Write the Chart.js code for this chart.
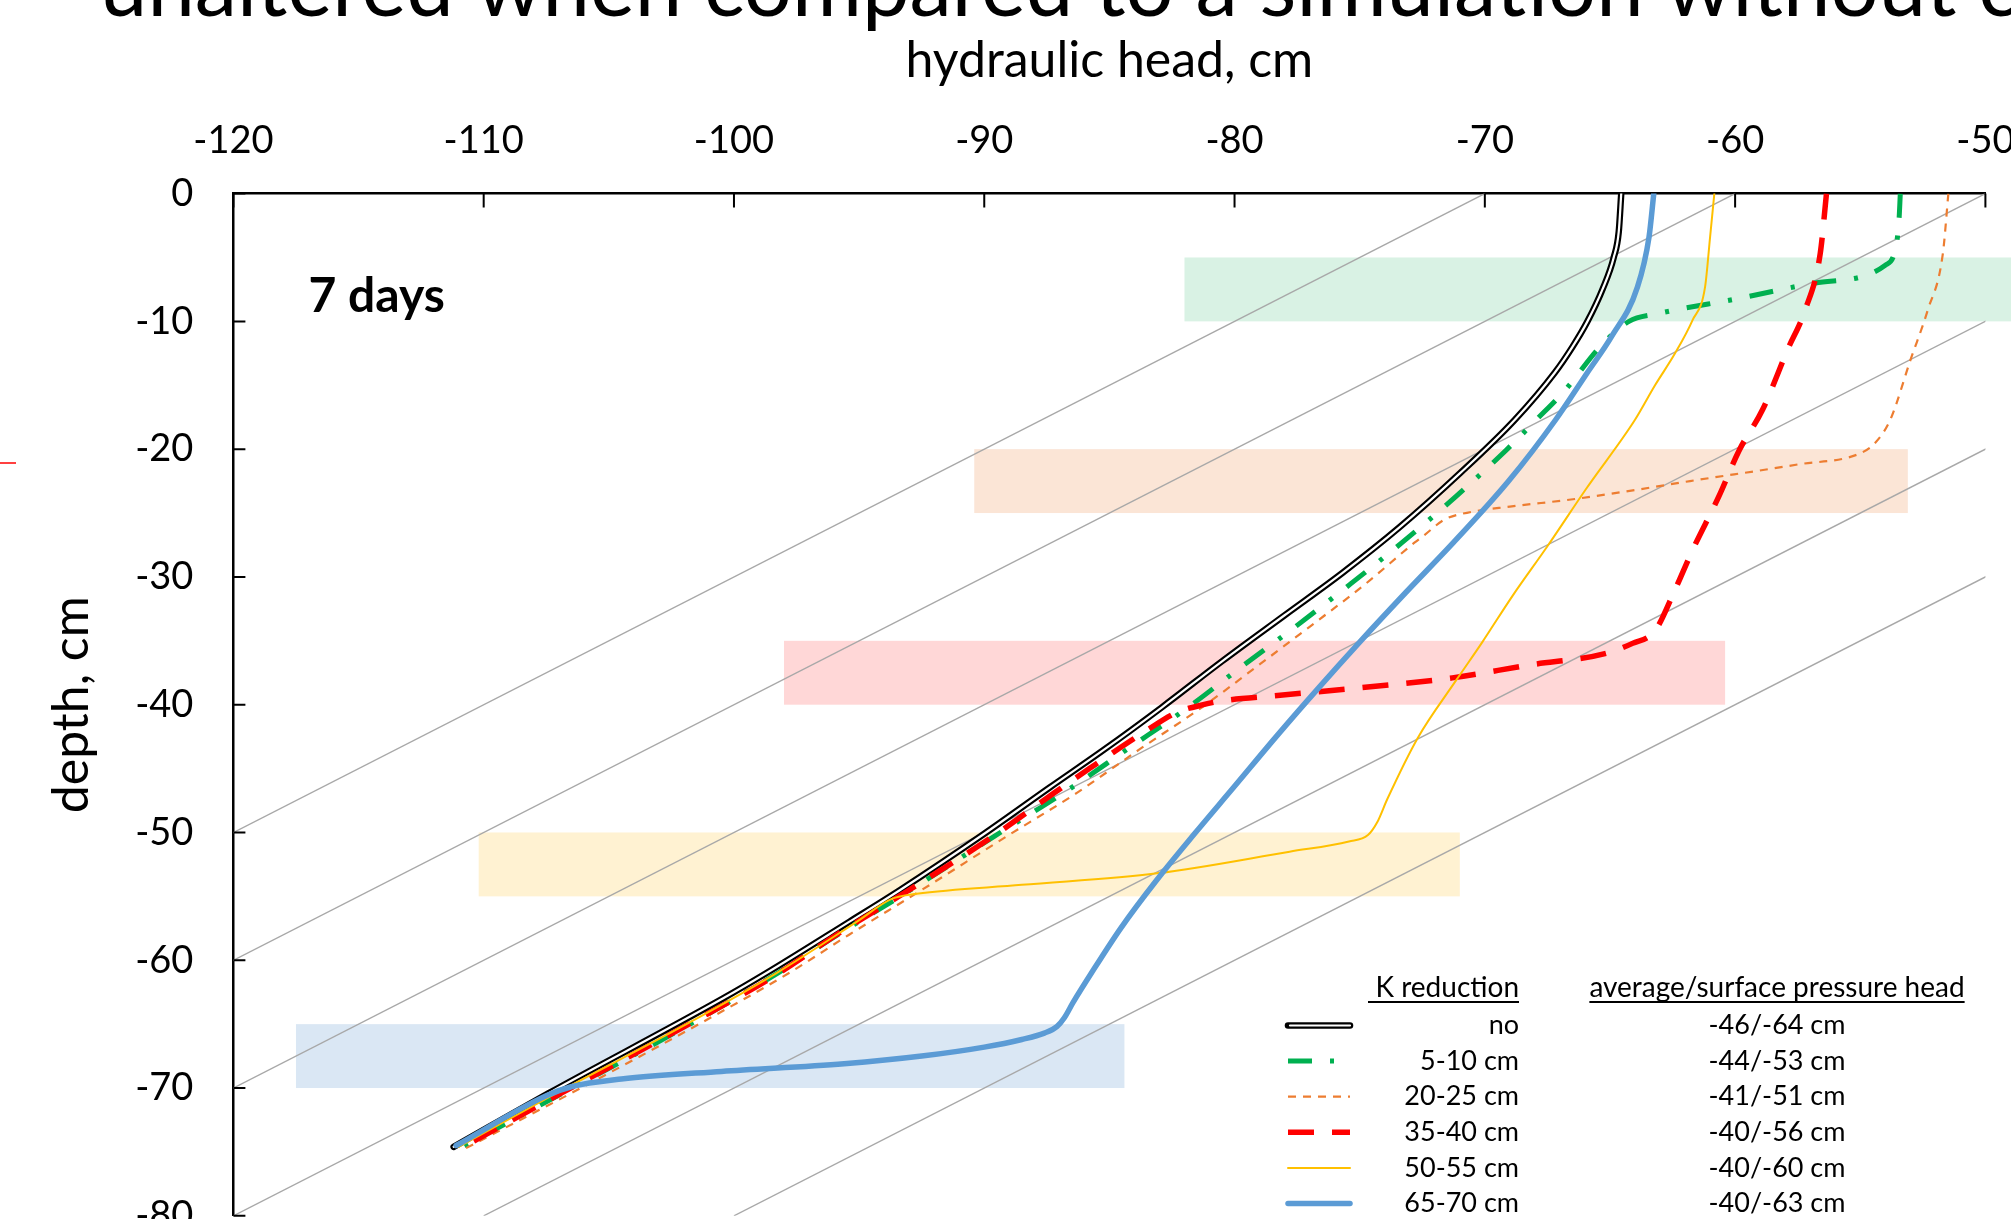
<!DOCTYPE html>
<html>
<head>
<meta charset="utf-8">
<title>hydraulic head, 7 days</title>
<script src="https://cdn.jsdelivr.net/npm/chart.js@4.4.1/dist/chart.umd.min.js"></script>
<style>
  html, body { margin: 0; padding: 0; background: #fff; }
  #wrap { width: 2011px; height: 1219px; position: relative; overflow: hidden; }
</style>
</head>
<body>
<div id="wrap"><canvas id="chart" width="2011" height="1219"></canvas></div>
<script>
// axis ticks
const headTicks = [-120, -110, -100, -90, -80, -70, -60, -50];
const depthTicks = [0, -10, -20, -30, -40, -50, -60, -70, -80];

// profiles: depth (cm) and hydraulic head (cm)
const noDepth = [0, -3, -5, -7.5, -10, -12, -14, -17.7, -21.9, -26.1, -29.7, -33, -36.6, -40.2, -43.5, -46.5, -50.1, -54.5, -57, -61, -63, -70.4, -74.6];
const noHead  = [-64.55, -64.65, -64.85, -65.3, -65.9, -66.5, -67.2, -68.8, -71.0, -73.4, -75.7, -78.0, -80.5, -82.9, -85.2, -87.4, -90.0, -93.36, -95.4, -98.7, -100.45, -107.4, -111.2];

const k5Depth = [0, -2, -4, -5.6, -7, -8.2, -9.4, -10, -12, -15.4, -17.7, -20.1, -23.7, -27.3, -30.6, -33.9, -37, -40.2, -43.5, -46.8, -50.3, -54.5, -58, -61, -65, -70.4, -74.7];
const k5Head  = [-53.4, -53.45, -53.56, -54.0, -56.8, -59.84, -63.1, -64.24, -65.4, -66.8, -67.94, -69.16, -71.15, -73.3, -75.4, -77.57, -79.7, -81.85, -84.3, -86.75, -89.6, -92.95, -95.85, -98.25, -101.75, -106.85, -110.95];

const k20Depth = [0, -4.7, -9.1, -13, -17.7, -19.5, -20.3, -21.2, -22.5, -23.2, -23.9, -24.5, -24.9, -25.5, -26.7, -27.3, -30.6, -33.9, -37, -40.2, -43.5, -46.9, -50.3, -54.5, -58, -61, -65, -70.4, -74.8];
const k20Head  = [-51.48, -51.7, -52.3, -52.99, -53.8, -54.4, -54.97, -57.5, -61.8, -64.0, -66.4, -69.0, -70.5, -71.6, -72.4, -72.8, -74.8, -77.0, -79.1, -81.3, -83.8, -86.3, -89.1, -92.5, -95.4, -97.8, -101.4, -106.5, -110.8];

const k35Depth = [0, -4.7, -9.1, -12.2, -16.9, -20.1, -23.7, -27.9, -31, -34.2, -35.2, -36.0, -36.9, -37.9, -38.7, -39.3, -39.7, -40.0, -40.6, -42.0, -45.0, -46.9, -50.3, -54.5, -58, -61, -65, -70.4, -74.7];
const k35Head  = [-56.35, -56.6, -57.2, -57.9, -58.9, -59.84, -60.65, -61.7, -62.4, -63.2, -64.1, -65.2, -68.24, -71.3, -75.1, -78.4, -80.5, -81.25, -82.3, -83.5, -85.8, -87.2, -89.65, -93.0, -95.9, -98.2, -101.8, -106.9, -110.9];

const k50Depth = [0, -3.4, -7.3, -9.9, -12.5, -15, -17.7, -23.1, -27.6, -31.5, -35.1, -38.1, -42.6, -47.4, -49.2, -50.2, -50.7, -51.5, -53.2, -54.1, -54.8, -55.2, -57, -61, -65, -70.4, -74.6];
const k50Head  = [-60.83, -61.0, -61.2, -61.7, -62.4, -63.2, -64.0, -65.95, -67.5, -68.9, -70.1, -71.15, -72.68, -73.9, -74.3, -74.67, -75.43, -77.8, -83.1, -88.5, -92.7, -93.7, -95.1, -98.3, -101.9, -107.1, -111.0];

const k65Depth = [0, -3.4, -7.3, -11.2, -14, -17.7, -22.5, -27.3, -31.2, -35.1, -38.7, -42.3, -46.5, -50.1, -53.7, -57.5, -61.1, -63.3, -64.5, -65.2, -65.7, -66.2, -66.8, -67.5, -68.1, -68.7, -69.3, -69.9, -70.6, -74.5];
const k65Head  = [-63.25, -63.44, -63.9, -64.94, -65.9, -67.17, -69.05, -71.25, -73.15, -75.0, -76.65, -78.25, -80.05, -81.6, -83.1, -84.55, -85.75, -86.45, -86.8, -87.1, -87.6, -88.5, -90.0, -92.5, -95.6, -100.5, -104.5, -106.5, -107.5, -111.1];

// lines of equal pressure head (hydraulic head = pressure head + depth)
const isoPressure = [-70, -60, -50, -40, -30, -20];

// reduced-K layers (depth range) and the head range they are shaded over
const bandTop    = [-5, -20, -35, -50, -65];
const bandBottom = [-10, -25, -40, -55, -70];
const bandLeft   = [-82, -90.4, -98, -110.2, -117.5];
const bandRight  = [-48.5, -53.1, -60.4, -71.0, -84.4];

// legend table
const seriesNames = ['no', '5-10 cm', '20-25 cm', '35-40 cm', '50-55 cm', '65-70 cm'];
const pressureHeads = ['-46/-64 cm', '-44/-53 cm', '-41/-51 cm', '-40/-56 cm', '-40/-60 cm', '-40/-63 cm'];

// styles
const bandColors = ['#D9F2E4', '#FBE5D6', '#FFD7D7', '#FFF2D2', '#DAE7F4'];
const seriesColors = ['#000000', '#00B050', '#ED7D31', '#FF0000', '#FFC000', '#5B9BD5'];
const seriesWidths = [6.5, 5, 2.2, 5.5, 2, 5.5];
const seriesDashes = [[], [24, 18, 4, 18], [8, 7], [26, 18], [], []];
const seriesCaps = ['round', 'butt', 'butt', 'butt', 'round', 'round'];

Chart.defaults.font.family = 'Lato';
Chart.defaults.color = '#000';

const toPoints = (head, depth) => head.map((h, i) => ({ x: h, y: depth[i] }));

const profiles = [
  toPoints(noHead, noDepth),
  toPoints(k5Head, k5Depth),
  toPoints(k20Head, k20Depth),
  toPoints(k35Head, k35Depth),
  toPoints(k50Head, k50Depth),
  toPoints(k65Head, k65Depth)
];

const datasets = [];
isoPressure.forEach(p => {
  const d0 = depthTicks[0], d1 = depthTicks[depthTicks.length - 1];
  datasets.push({
    data: [{ x: p + d0, y: d0 }, { x: p + d1, y: d1 }],
    borderColor: '#A8A8A8', borderWidth: 1.4, pointRadius: 0, tension: 0, order: 20
  });
});
profiles.forEach((pts, i) => {
  datasets.push({
    label: seriesNames[i],
    data: pts,
    borderColor: seriesColors[i],
    borderWidth: seriesWidths[i],
    borderDash: seriesDashes[i],
    borderCapStyle: seriesCaps[i],
    borderJoinStyle: 'round',
    cubicInterpolationMode: 'monotone',
    pointRadius: 0,
    order: 10 - i
  });
});
// white core of the double black line
datasets.push({
  data: profiles[0], borderColor: '#FFFFFF', borderWidth: 2.2, borderCapStyle: 'round',
  cubicInterpolationMode: 'monotone', pointRadius: 0, order: 9.5
});

const bandPlugin = {
  id: 'bands',
  beforeDatasetsDraw(chart) {
    const { ctx, scales: { x, y } } = chart;
    ctx.save();
    bandTop.forEach((top, i) => {
      const x1 = x.getPixelForValue(bandLeft[i]);
      const x2 = x.getPixelForValue(bandRight[i]);
      const y1 = y.getPixelForValue(top);
      const y2 = y.getPixelForValue(bandBottom[i]);
      ctx.fillStyle = bandColors[i];
      ctx.fillRect(x1, y1, x2 - x1, y2 - y1);
    });
    ctx.restore();
  }
};

// tick marks point into the plot
const innerTicks = {
  id: 'innerTicks',
  afterDatasetsDraw(chart) {
    const { ctx, chartArea: a, scales: { x, y } } = chart;
    ctx.save();
    ctx.strokeStyle = '#000';
    ctx.lineWidth = 2;
    ctx.beginPath();
    headTicks.forEach(v => { const px = x.getPixelForValue(v); ctx.moveTo(px, a.top); ctx.lineTo(px, a.top + 14); });
    depthTicks.forEach(v => { const py = y.getPixelForValue(v); ctx.moveTo(a.left, py); ctx.lineTo(a.left + 12, py); });
    ctx.stroke();
    ctx.restore();
  }
};

function drawSample(ctx, i, x1, x2, y) {
  ctx.save();
  ctx.strokeStyle = seriesColors[i];
  ctx.lineWidth = seriesWidths[i];
  ctx.setLineDash(seriesDashes[i]);
  ctx.lineCap = seriesCaps[i];
  ctx.beginPath(); ctx.moveTo(x1, y); ctx.lineTo(x2, y); ctx.stroke();
  if (i === 0) {
    ctx.strokeStyle = '#FFFFFF';
    ctx.lineWidth = 2.2;
    ctx.beginPath(); ctx.moveTo(x1 + 2, y); ctx.lineTo(x2, y); ctx.stroke();
  }
  ctx.restore();
}

const notes = {
  id: 'notes',
  afterDraw(chart) {
    const { ctx, scales: { x, y } } = chart;
    ctx.save();
    // slide title, mostly cut off above the picture
    ctx.fillStyle = '#000';
    ctx.font = '85px Lato';
    ctx.textAlign = 'left';
    ctx.textBaseline = 'alphabetic';
    ctx.fillText('unaltered when compared to a simulation without c', 100, 16);

    // stray red mark at the left edge
    ctx.strokeStyle = '#FF0000';
    ctx.lineWidth = 1.5;
    ctx.beginPath(); ctx.moveTo(0, 463); ctx.lineTo(16, 463); ctx.stroke();

    // time label
    ctx.font = 'bold 48px Lato';
    ctx.fillText('7 days', x.getPixelForValue(-117), y.getPixelForValue(-9.3));

    // legend table
    const sx1 = 1288, sx2 = 1350, col2 = 1519, col3 = 1777;
    const rowY0 = 1025.5, rowStep = 35.6;
    ctx.font = '28px Lato';
    ctx.textBaseline = 'alphabetic';
    ctx.textAlign = 'right';
    ctx.fillText('K reduction', col2, 997);
    ctx.textAlign = 'center';
    ctx.fillText('average/surface pressure head', col3, 997);
    const w2 = ctx.measureText('average/surface pressure head').width;
    ctx.fillRect(1368, 1001, col2 - 1368, 2);
    ctx.fillRect(col3 - w2 / 2, 1001, w2, 2);

    ctx.font = '27px Lato';
    ctx.textBaseline = 'middle';
    seriesNames.forEach((name, i) => {
      const ry = rowY0 + i * rowStep;
      drawSample(ctx, i, sx1, sx2, ry);
      ctx.fillStyle = '#000';
      ctx.textAlign = 'right';
      ctx.fillText(name, col2, ry);
      ctx.textAlign = 'center';
      ctx.fillText(pressureHeads[i], col3, ry);
    });
    ctx.restore();
  }
};

new Chart(document.getElementById('chart'), {
  type: 'line',
  data: { datasets },
  plugins: [bandPlugin, innerTicks, notes],
  options: {
    responsive: false,
    animation: false,
    layout: { autoPadding: false, padding: { left: 0, top: 0, right: 25.6, bottom: 3.2 } },
    plugins: { legend: { display: false }, tooltip: { enabled: false } },
    scales: {
      x: {
        type: 'linear',
        position: 'top',
        min: headTicks[0],
        max: headTicks[headTicks.length - 1],
        afterBuildTicks: s => { s.ticks = headTicks.map(v => ({ value: v })); },
        afterFit: s => { s.height = 193.6; s.paddingLeft = 0; s.paddingRight = 0; },
        ticks: { font: { size: 38 }, color: '#000', padding: 30, maxRotation: 0, autoSkip: false },
        grid: { display: false, drawTicks: false },
        border: { display: true, color: '#000', width: 2.5 },
        title: { display: true, text: 'hydraulic head, cm', color: '#000', font: { size: 50 }, padding: { top: 31, bottom: 0 } }
      },
      y: {
        type: 'linear',
        min: depthTicks[depthTicks.length - 1],
        max: depthTicks[0],
        afterBuildTicks: s => { s.ticks = depthTicks.slice().reverse().map(v => ({ value: v })); },
        afterFit: s => { s.width = 233.4; s.paddingTop = 0; s.paddingBottom = 0; },
        ticks: { font: { size: 38 }, color: '#000', padding: 40, autoSkip: false },
        grid: { display: false, drawTicks: false },
        border: { display: true, color: '#000', width: 2.5 },
        title: { display: true, text: 'depth, cm', color: '#000', font: { size: 50 }, padding: { top: 42, bottom: 0 } }
      }
    }
  }
});
</script>
</body>
</html>
